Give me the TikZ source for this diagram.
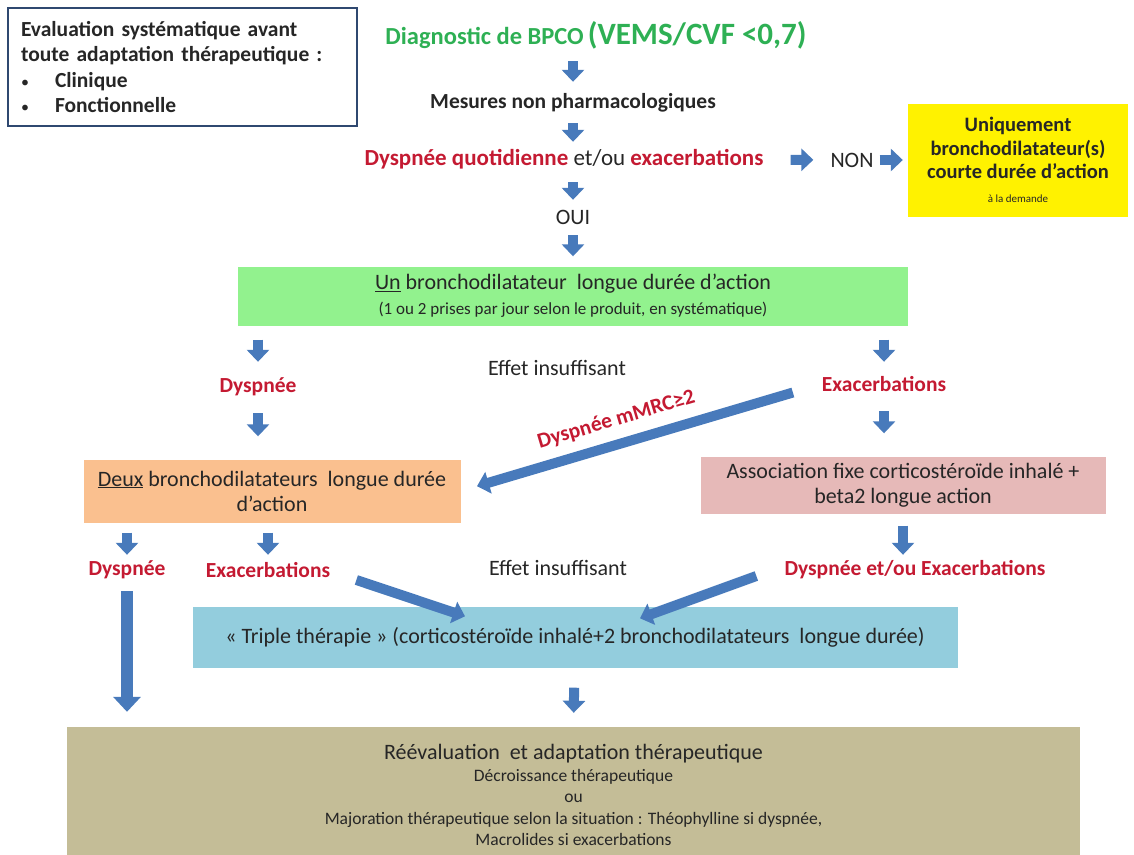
\documentclass[tikz,border=0pt]{standalone}
\usepackage{fontspec}
\setmainfont{Carlito}
\usetikzlibrary{arrows.meta,positioning,calc}

\definecolor{diaggreen}{RGB}{46,176,84}
\definecolor{alertred}{RGB}{196,26,50}
\definecolor{arrowblue}{RGB}{72,122,187}
\definecolor{frameblue}{RGB}{47,72,112}
\definecolor{lightgreen}{RGB}{146,242,142}
\definecolor{lightorange}{RGB}{250,192,143}
\definecolor{lightpink}{RGB}{230,185,184}
\definecolor{lightblue}{RGB}{147,205,221}
\definecolor{olivebox}{RGB}{196,189,151}
\definecolor{darktext}{RGB}{38,38,38}

\newcommand{\redtxt}[1]{\textbf{\color{alertred}#1}}
\newcommand{\smalltxt}{\fontsize{17.5}{21.5}\selectfont}
\newcommand{\bulletbox}{\makebox[34pt][l]{\normalfont\fontsize{16}{16}\selectfont•}}

\begin{document}
\begin{tikzpicture}[
x=1pt, y=-1pt,
every node/.style={text=darktext, font=\fontsize{22}{25}\selectfont},
lbl/.style={inner sep=0pt, minimum height=26pt},
bold/.style={lbl, font=\fontsize{21.5}{25}\selectfont\bfseries},
redlbl/.style={bold, text=alertred},
box/.style={rectangle, align=center, inner sep=0pt},
barrow/.style={-{Triangle[width=22pt,length=12pt]}, line width=10pt, draw=arrowblue},
bigarrow/.style={-{Triangle[width=27pt,length=15pt]}, line width=12pt, draw=arrowblue}
]
\useasboundingbox (0,0) rectangle (1134,854);

% evaluation box
\node[box, draw=frameblue, line width=1.6pt, align=left, inner xsep=13pt, text width=323pt, minimum height=118pt, font=\fontsize{21.5}{25.5}\selectfont\bfseries] (eval) at (182.5,67)
{Evaluation systématique avant\\toute adaptation thérapeutique :\\\bulletbox Clinique\\\bulletbox Fonctionnelle};

% main column
\node[bold, text=diaggreen, font=\fontsize{24.5}{28}\selectfont\bfseries] (diag) at (596,35) {Diagnostic de BPCO\,{\fontsize{31}{34}\selectfont(VEMS/CVF <0,7)}};
\node[bold] (mesures) at (573,103) {Mesures non pharmacologiques};
\node[lbl, font=\fontsize{23}{25}\selectfont] (dyq) at (564,159) {\redtxt{Dyspnée quotidienne} et/ou \redtxt{exacerbations}};
\node[lbl] (non) at (852,160) {NON};
\node[box, fill=yellow, minimum width=220pt, minimum height=113pt, font=\fontsize{20.5}{23.5}\selectfont\bfseries] (yellow) at (1018,160)
{Uniquement\\bronchodilatateur(s)\\courte durée d'action\\{\normalfont\fontsize{11}{13}\selectfont à la demande}};
\node[lbl] (oui) at (573,217) {OUI};
\node[box, fill=lightgreen, minimum width=670pt, minimum height=59pt] (lda) at (573,296)
{\underline{Un} bronchodilatateur\ \ longue durée d'action\\{\fontsize{17}{22}\selectfont(1 ou 2 prises par jour selon le produit, en systématique)}};

% second level
\node[redlbl] (dys1) at (258,387) {Dyspnée};
\node[lbl] (eff1) at (557,368) {Effet insuffisant};
\node[redlbl] (exa1) at (884,384) {Exacerbations};
\node[box, fill=lightorange, minimum width=377pt, minimum height=63pt] (deux) at (272,491)
{\underline{Deux} bronchodilatateurs\ \ longue durée\\d'action};
\node[box, fill=lightpink, minimum width=405pt, minimum height=57pt] (assoc) at (903,485)
{Association fixe corticostéroïde inhalé +\\beta2 longue action};

% third level
\node[redlbl] (dys2) at (127,570) {Dyspnée};
\node[redlbl] (exa2) at (268,570) {Exacerbations};
\node[lbl] (eff2) at (558,568) {Effet insuffisant};
\node[redlbl] (dex) at (915,570) {Dyspnée et/ou Exacerbations};
\node[box, fill=lightblue, minimum width=765pt, minimum height=61pt] (triple) at (575,637)
{« Triple thérapie » (corticostéroïde inhalé+2 bronchodilatateurs\ \ longue durée)};
\node[box, fill=olivebox, minimum width=1013pt, minimum height=136pt, font=\fontsize{22}{21.5}\selectfont] (reeval) at (573.5,795)
{Réévaluation\ \ et adaptation thérapeutique\\\smalltxt Décroissance thérapeutique\\\smalltxt ou\\\smalltxt Majoration thérapeutique selon la situation : Théophylline si dyspnée,\\\smalltxt Macrolides si exacerbations};

% arrows
\draw[barrow, shorten <=12pt, shorten >=8pt] (diag.south -| mesures) -- (mesures);
\draw[barrow, shorten <=7pt, shorten >=4pt] (mesures) -- (dyq.north -| mesures);
\draw[barrow, shorten <=10pt, shorten >=4pt] (dyq.south -| oui) -- (oui);
\draw[barrow, shorten <=5pt, shorten >=10pt] (oui) -- (lda);
\draw[barrow, shorten <=27pt, shorten >=17pt] (dyq) -- (non);
\draw[barrow, shorten <=6pt, shorten >=5pt] (non) -- (yellow);
\draw[barrow, shorten <=14pt, shorten >=12pt] (lda.south -| dys1) -- (dys1);
\draw[barrow, shorten <=14pt, shorten >=9pt] (lda.south -| exa1) -- (exa1);
\draw[barrow, shorten <=13pt, shorten >=23pt] (dys1) -- (deux.north -| dys1);
\draw[barrow, shorten <=14pt, shorten >=23pt] (exa1) -- (assoc.north -| exa1);
\draw[barrow, shorten <=30pt, shorten >=17pt] (exa1.west) -- (deux.east)
  node[pos=0.55, sloped, above=6pt, redlbl] {Dyspnée mMRC≥2};
\draw[barrow, shorten <=10pt, shorten >=2pt] (deux.south -| dys2) -- (dys2);
\draw[barrow, shorten <=10pt, shorten >=2pt] (deux.south -| exa2) -- (exa2);
\draw[barrow, shorten <=12pt, shorten >=2pt] (assoc.south) -- (assoc.south |- dex.north);
\draw[barrow] ([shift={(26,10)}]exa2.east) -- ($(triple.north)+(-110,10)$);
\draw[barrow] ([shift={(-28,6)}]dex.west) -- ($(triple.north)+(65,12)$);
\draw[barrow, shorten <=20pt, shorten >=14pt] (triple) -- (reeval.north);
\draw[bigarrow, shorten <=8pt, shorten >=15pt] (dys2) -- (reeval.north -| dys2);
\end{tikzpicture}
\end{document}
